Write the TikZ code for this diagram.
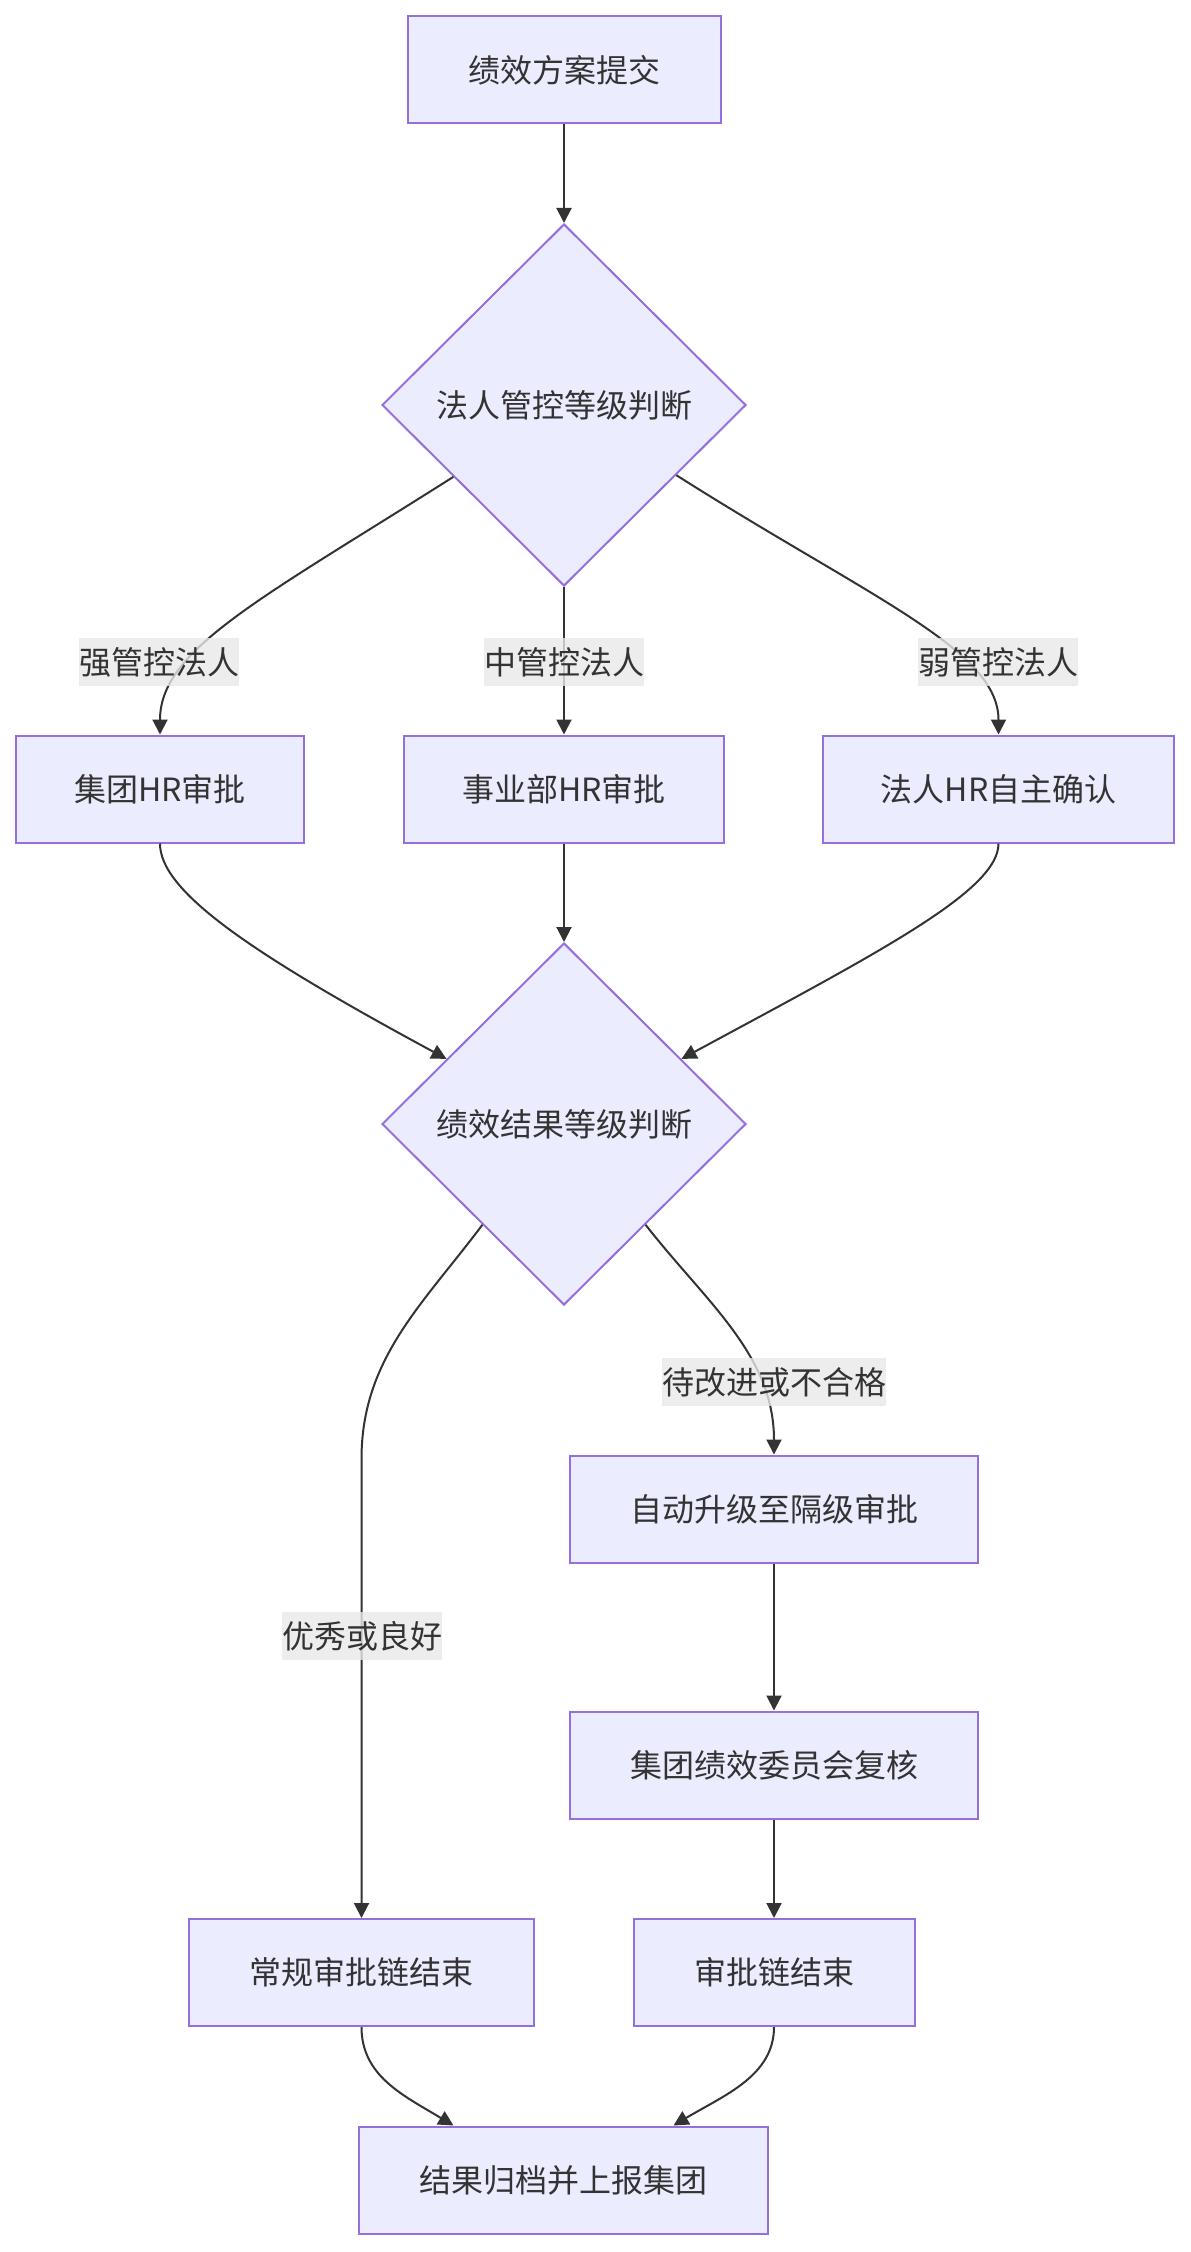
\documentclass[tikz,border=0pt]{standalone}
\usepackage{fontspec}
\setmainfont{Noto Sans CJK SC}
\usetikzlibrary{arrows.meta,shapes.geometric}

\definecolor{nodefill}{HTML}{ECECFF}
\definecolor{nodeline}{HTML}{9370DB}
\definecolor{linkgray}{HTML}{333333}
\definecolor{labelbg}{HTML}{E8E8E8}

\begin{document}
\begin{tikzpicture}[x=0.5pt, y=-0.5pt,
    proc/.style={rectangle, draw=nodeline, fill=nodefill, line width=1pt, text=linkgray,
        minimum height=53.5pt, inner sep=0pt, font=\fontsize{16}{20}\selectfont},
    decide/.style={diamond, aspect=1, draw=nodeline, fill=nodefill, line width=1pt, text=linkgray,
        minimum width=182pt, minimum height=181pt, inner sep=0pt, font=\fontsize{16}{20}\selectfont},
    link/.style={draw=linkgray, line width=1pt, -{Triangle[length=7.5pt, width=7.5pt]}},
    edgelabel/.style={fill=labelbg, fill opacity=0.8, text opacity=1, text=linkgray,
        inner xsep=0pt, inner ysep=0pt, minimum height=24pt, font=\fontsize{16}{20}\selectfont}
]
    % --- 画布大小 (单位: 像素, y 轴向下) ---
    \useasboundingbox (0,0) rectangle (1190,2252);

    % --- 第一层: 提交与管控判断 ---
    \node[proc, minimum width=156.5pt] (submit) at (564,70) {绩效方案提交};
    \node[decide] (ctrlcheck) at (564,405) {法人管控等级判断};

    % --- 第二层: 三类 HR 审批 ---
    \node[proc, minimum width=144pt]   (grouphr) at (160,789)   {集团HR审批};
    \node[proc, minimum width=160pt]   (unithr)  at (564,789)   {事业部HR审批};
    \node[proc, minimum width=175.5pt] (localhr) at (998.5,789) {法人HR自主确认};

    % --- 第三层: 结果等级判断 ---
    \node[decide] (rescheck) at (564,1124) {绩效结果等级判断};

    % --- 升级复核分支 ---
    \node[proc, minimum width=204pt] (escalate) at (774,1509) {自动升级至隔级审批};
    \node[proc, minimum width=204pt] (review)   at (774,1765) {集团绩效委员会复核};

    % --- 审批链结束 ---
    \node[proc, minimum width=172.5pt] (normalend) at (361.5,1972.5) {常规审批链结束};
    \node[proc, minimum width=140.5pt] (chainend)  at (774,1972.5)   {审批链结束};
    \node[proc, minimum width=204.5pt] (archive)   at (563.5,2180)   {结果归档并上报集团};

    % --- 连线 ---
    \draw[link] (submit.south) -- (ctrlcheck.north);
    \draw[link] (ctrlcheck.213) .. controls +(-194,123) and +(0,-85) .. (grouphr.north);
    \draw[link] (ctrlcheck.south) -- (unithr.north);
    \draw[link] (ctrlcheck.328) .. controls +(194,123) and +(0,-85) .. (localhr.north);

    \draw[link] (grouphr.south) .. controls +(0,47) and +(-200,-108) .. (rescheck.151);
    \draw[link] (unithr.south) -- (rescheck.north);
    \draw[link] (localhr.south) .. controls +(0,47) and +(200,-108) .. (rescheck.29);

    % 优秀或良好: 先弯后直
    \draw[link] (rescheck.231) .. controls +(-60,80) and +(0,-100) .. ([yshift=229.5pt]normalend.north)
        -- (normalend.north);
    \draw[link] (rescheck.309) .. controls +(60,77) and +(0,-100) .. (escalate.north);
    \draw[link] (escalate.south) -- (review.north);
    \draw[link] (review.south) -- (chainend.north);

    \draw[link] (normalend.south) .. controls +(0,49) and +(-50,-30) .. ([xshift=-55pt]archive.north);
    \draw[link] (chainend.south) .. controls +(0,49) and +(50,-30) .. ([xshift=55pt]archive.north);

    % --- 连线标签 ---
    \node[edgelabel] (strongtag) at (159,662)  {强管控法人};
    \node[edgelabel] (midtag)    at (564,662)  {中管控法人};
    \node[edgelabel] (weaktag)   at (998,662)  {弱管控法人};
    \node[edgelabel] (goodtag)   at (362,1636) {优秀或良好};
    \node[edgelabel] (badtag)    at (774,1382) {待改进或不合格};

\end{tikzpicture}
\end{document}
